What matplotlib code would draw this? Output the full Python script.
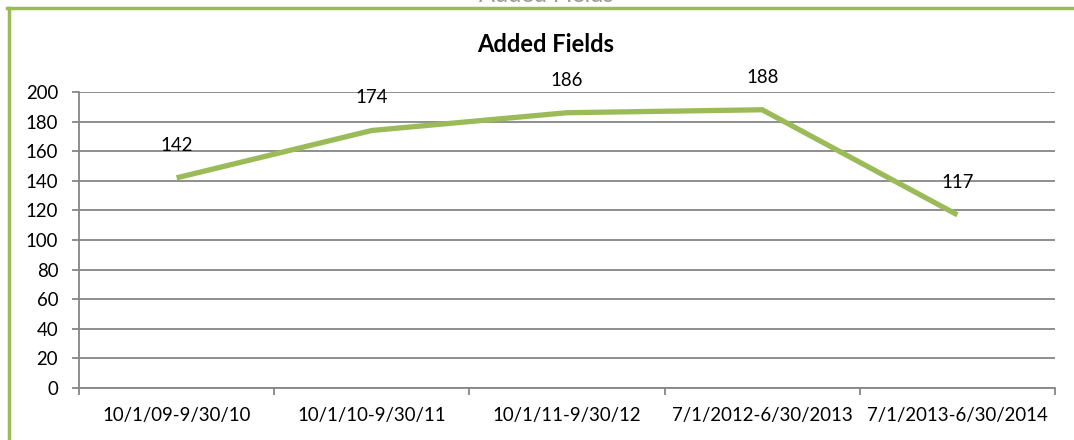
import matplotlib
matplotlib.use("Agg")
import matplotlib.pyplot as plt
from matplotlib.lines import Line2D

categories = ["10/1/09-9/30/10", "10/1/10-9/30/11", "10/1/11-9/30/12",
              "7/1/2012-6/30/2013", "7/1/2013-6/30/2014"]
values = [142, 174, 186, 188, 117]
title = "Added Fields"

plt.rcParams['font.family'] = ['Lato', 'DejaVu Sans']

W, H = 1074, 440
fig = plt.figure(figsize=(W / 100, H / 100), dpi=100)
ax = fig.add_axes([79 / W, 1 - 388 / H, (1055 - 79) / W, (388 - 92) / H])

green = '#9BBB59'
grid = '#868686'
fs = 13.4

x = list(range(len(values)))
ax.plot(x, values, color=green, lw=3.8, solid_joinstyle='miter', solid_capstyle='butt', zorder=3)
for xi, v in zip(x, values):
    ax.annotate(str(v), (xi, v), xytext=(0, 23.5), textcoords='offset points',
                ha='center', va='center', fontsize=fs, color='black')

ax.set_xlim(-0.5, len(values) - 0.5)
ax.set_ylim(0, 200)
ax.set_yticks(range(0, 201, 20))
ax.yaxis.grid(True, color=grid, lw=1.3)
ax.set_axisbelow(True)

ax.set_xticks(x)
ax.set_xticklabels(categories)
ax.set_xticks([i - 0.5 for i in range(len(values) + 1)], minor=True)
ax.tick_params(axis='x', which='major', length=0, pad=13.5, labelsize=fs)
ax.tick_params(axis='x', which='minor', length=5, width=1.3, color=grid, direction='out')
ax.tick_params(axis='y', length=5, width=1.3, color=grid, labelsize=fs, pad=10)

for s in ['top', 'right']:
    ax.spines[s].set_visible(False)
for s in ['left', 'bottom']:
    ax.spines[s].set_color(grid)
    ax.spines[s].set_linewidth(1.3)

fig.text(546 / W, 1 - 45 / H, title, ha='center', va='center', fontsize=17, fontweight='bold')
# cut-off outer title at very top
fig.text(546 / W, 1 - 2.5 / H, title, ha='center', va='baseline', fontsize=17, color='#9a9a9a')

# green frame (left and top)
fig.add_artist(Line2D([8.5 / W, 8.5 / W], [0, 1 - 8 / H], color=green, lw=2.5, transform=fig.transFigure))
fig.add_artist(Line2D([7.2 / W, 1], [1 - 8.5 / H, 1 - 8.5 / H], color=green, lw=2.5, transform=fig.transFigure))

fig.savefig("out.png", dpi=100)
